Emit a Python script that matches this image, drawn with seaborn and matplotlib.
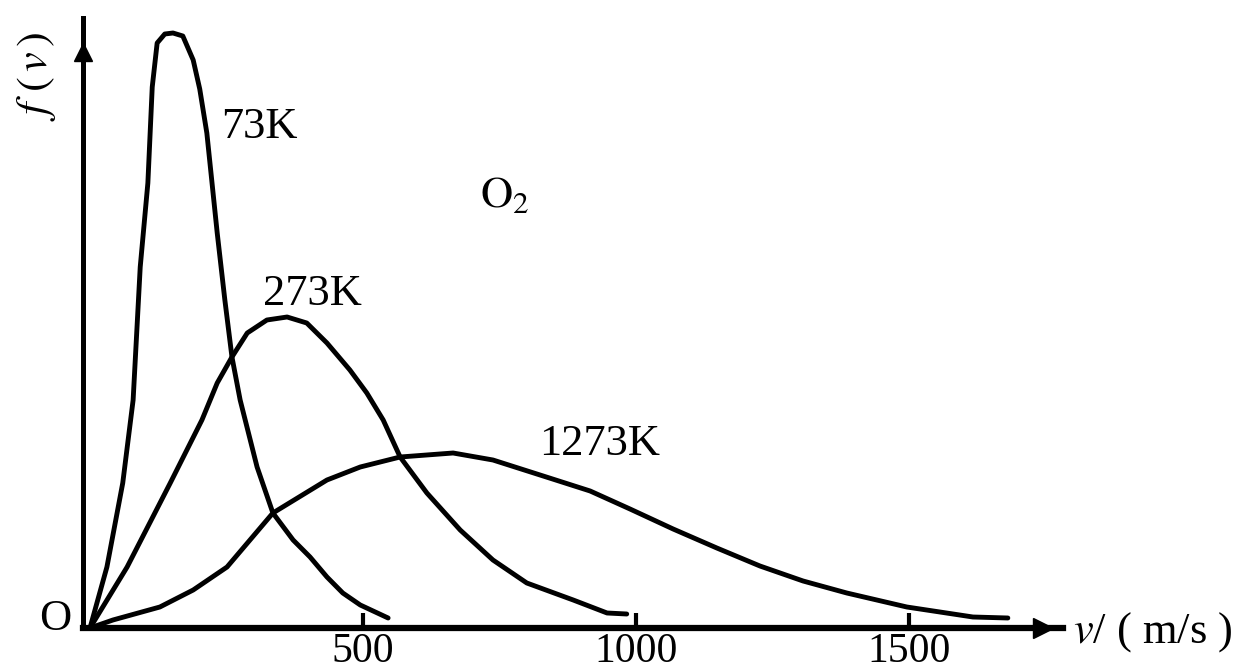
import numpy as np
import pandas as pd
import matplotlib
matplotlib.use("Agg")
import matplotlib.pyplot as plt
import seaborn as sns

####### Maxwell speed distribution of O2 at three temperatures ##########
# speeds in m/s, f(v) in arbitrary units
v_73 = [0, 31, 60, 79, 92, 106, 114, 123, 137, 152, 170, 189, 201, 214, 233, 247,
        260, 275, 306, 335, 372, 403, 434, 463, 495, 546]
f_73 = [0, 0.61, 1.45, 2.28, 3.61, 4.45, 5.41, 5.85, 5.94, 5.95, 5.92, 5.68, 5.39, 4.95,
        3.95, 3.28, 2.71, 2.28, 1.61, 1.15, 0.88, 0.71, 0.51, 0.35, 0.23, 0.10]

v_273 = [0, 68, 147, 205, 233, 260, 288, 324, 361, 397, 434, 476, 507, 537, 568, 617,
         678, 738, 800, 885, 947, 983]
f_273 = [0, 0.61, 1.45, 2.08, 2.45, 2.71, 2.95, 3.08, 3.11, 3.05, 2.85, 2.58, 2.35, 2.08,
         1.71, 1.35, 0.98, 0.68, 0.45, 0.28, 0.15, 0.14]

v_1273 = [0, 42, 128, 189, 251, 335, 434, 495, 568, 665, 738, 830, 916, 989, 1068, 1148,
          1227, 1306, 1386, 1496, 1617, 1681]
f_1273 = [0, 0.08, 0.21, 0.38, 0.61, 1.15, 1.48, 1.61, 1.71, 1.75, 1.68, 1.52, 1.37, 1.19,
          0.99, 0.80, 0.62, 0.47, 0.35, 0.21, 0.11, 0.10]

temps = ["73K", "273K", "1273K"]
x_ticks = [500, 1000, 1500]

# long-form table for seaborn
df = pd.concat([
    pd.DataFrame({"v": v_73, "f": f_73, "T": temps[0]}),
    pd.DataFrame({"v": v_273, "f": f_273, "T": temps[1]}),
    pd.DataFrame({"v": v_1273, "f": f_1273, "T": temps[2]}),
])

sns.set_style("white")
plt.rcParams["font.family"] = ["Liberation Serif", "DejaVu Serif"]
plt.rcParams["mathtext.fontset"] = "stix"
plt.rcParams["text.color"] = "black"

fig = plt.figure(figsize=(12.47, 6.72), dpi=100)
# axes box placed so the origin sits where it is in the scan
ax = fig.add_axes([83 / 1247, 44 / 672, 980 / 1247, 610 / 672])

sns.lineplot(data=df, x="v", y="f", hue="T", palette=["black"] * 3, legend=False,
             estimator=None, sort=False, lw=3.5, ax=ax,
             solid_capstyle="round", solid_joinstyle="round")

ax.set_xlim(-12.8, 1782)
ax.set_ylim(0, 6.10)
ax.set_xlabel("")
ax.set_ylabel("")

# only the two axis lines, no box
sns.despine(ax=ax)
ax.spines["bottom"].set_linewidth(4.5)
ax.spines["left"].set_linewidth(3.6)
ax.spines["bottom"].set_color("black")
ax.spines["left"].set_color("black")
ax.set_xticks(x_ticks)
ax.set_xticklabels([str(t) for t in x_ticks])
ax.set_yticks([])
ax.tick_params(axis="x", direction="in", length=11, width=3, pad=3,
               labelsize=30, colors="black", bottom=True)

# arrow heads at the ends of the axes
ax.plot([1745], [0], marker=">", ms=14, color="black", clip_on=False)
ax.plot([-12.8], [5.76], marker="^", ms=13, color="black", clip_on=False)

# curve labels
ax.text(310, 4.90, "73K", fontsize=32, ha="center", va="baseline")
ax.text(408, 3.23, "273K", fontsize=32, ha="center", va="baseline")
ax.text(934, 1.73, "1273K", fontsize=32, ha="center", va="baseline")
ax.text(714, 4.21, r"$\mathrm{O}_2$", fontsize=32, ha="left", va="baseline")
ax.text(-64, -0.02, "O", fontsize=32, ha="center", va="baseline", clip_on=False)

# axis titles
ax.text(1800, -0.15, r"$v$/ ( m/s )", fontsize=32, ha="left", va="baseline", clip_on=False)
fig.text(37 / 1247, 1 - 76 / 672, r"$f\,\,(\,v\,)$", fontsize=32, rotation=90,
         ha="center", va="center")

plt.savefig("out.png", dpi=100)
